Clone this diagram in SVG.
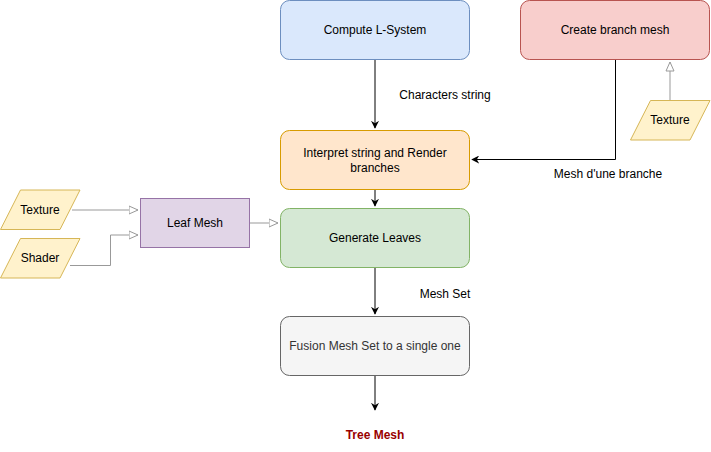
<svg xmlns="http://www.w3.org/2000/svg" width="711" height="452" viewBox="0 0 711 452">
<style>
text{font-family:"Liberation Sans",Arial,sans-serif;font-size:12px;fill:#000;text-anchor:middle;dominant-baseline:central}
.blue{fill:#dae8fc;stroke:#6c8ebf}
.red{fill:#f8cecc;stroke:#b85450}
.orange{fill:#ffe6cc;stroke:#d79b00}
.green{fill:#d5e8d4;stroke:#82b366}
.gray{fill:#f5f5f5;stroke:#666666}
.purple{fill:#e1d5e7;stroke:#9673a6}
.yellow{fill:#fff2cc;stroke:#d6b656}
.e{fill:none;stroke:#000;stroke-width:1}
.g{fill:none;stroke:#999999;stroke-width:1}
</style>
<defs>
<marker id="arr" viewBox="0 0 10 10" refX="9" refY="5" markerWidth="8" markerHeight="8" markerUnits="userSpaceOnUse" orient="auto">
<path d="M0,0 L10,5 L0,10 L3,5 Z" fill="#000"/>
</marker>
<marker id="open" viewBox="0 0 10 10" refX="9.5" refY="5" markerWidth="10" markerHeight="10" markerUnits="userSpaceOnUse" orient="auto">
<path d="M0.5,1 L9.5,5 L0.5,9 Z" fill="#fff" stroke="#999999"/>
</marker>
</defs>
<g id="connectors">
<path class="e" d="M375,60 V128" marker-end="url(#arr)"/>
<path class="e" d="M375,190 V206" marker-end="url(#arr)"/>
<path class="e" d="M375,268 V314" marker-end="url(#arr)"/>
<path class="e" d="M375,376 V410" marker-end="url(#arr)"/>
<path class="e" d="M615.5,60 V159.5 H472" marker-end="url(#arr)"/>
<path class="g" d="M670,100 V62" marker-end="url(#open)"/>
<path class="g" d="M72,210 H138" marker-end="url(#open)"/>
<path class="g" d="M70,265.5 H110.5 V235 H138" marker-end="url(#open)"/>
<path class="g" d="M250,223 H278" marker-end="url(#open)"/>
<text x="445" y="95">Characters string</text>
<text x="608" y="174">Mesh d'une branche</text>
<text x="445" y="294">Mesh Set</text>
</g>
<g id="compute">
<rect class="blue" x="280.5" y="0.5" width="189" height="59" rx="9"/>
<text x="375" y="30">Compute L-System</text>
</g>
<g id="branchmesh">
<rect class="red" x="520.5" y="0.5" width="189" height="59" rx="9"/>
<text x="615" y="30">Create branch mesh</text>
</g>
<g id="texture2">
<path class="yellow" d="M650.5,100.5 H710 L690,140 H630.5 Z"/>
<text x="670" y="120">Texture</text>
</g>
<g id="interpret">
<rect class="orange" x="280.5" y="130.5" width="189" height="59" rx="9"/>
<text x="375" y="153">Interpret string and Render</text>
<text x="375" y="168">branches</text>
</g>
<g id="generate">
<rect class="green" x="280.5" y="208.5" width="189" height="59" rx="9"/>
<text x="375" y="238">Generate Leaves</text>
</g>
<g id="fusion">
<rect class="gray" x="280.5" y="316.5" width="189" height="59" rx="9"/>
<text x="375" y="346" style="fill:#333333">Fusion Mesh Set to a single one</text>
</g>
<g id="treemesh">
<text x="375" y="435" style="fill:#990000;font-weight:bold">Tree Mesh</text>
</g>
<g id="leafmesh">
<rect class="purple" x="140.5" y="198.5" width="109" height="49"/>
<text x="195" y="223">Leaf Mesh</text>
</g>
<g id="texture1">
<path class="yellow" d="M20.5,190 H80 L60,229.5 H0.5 Z"/>
<text x="40" y="210">Texture</text>
</g>
<g id="shader">
<path class="yellow" d="M20.5,238.5 H80 L60,278 H0.5 Z"/>
<text x="40" y="258">Shader</text>
</g>
</svg>
